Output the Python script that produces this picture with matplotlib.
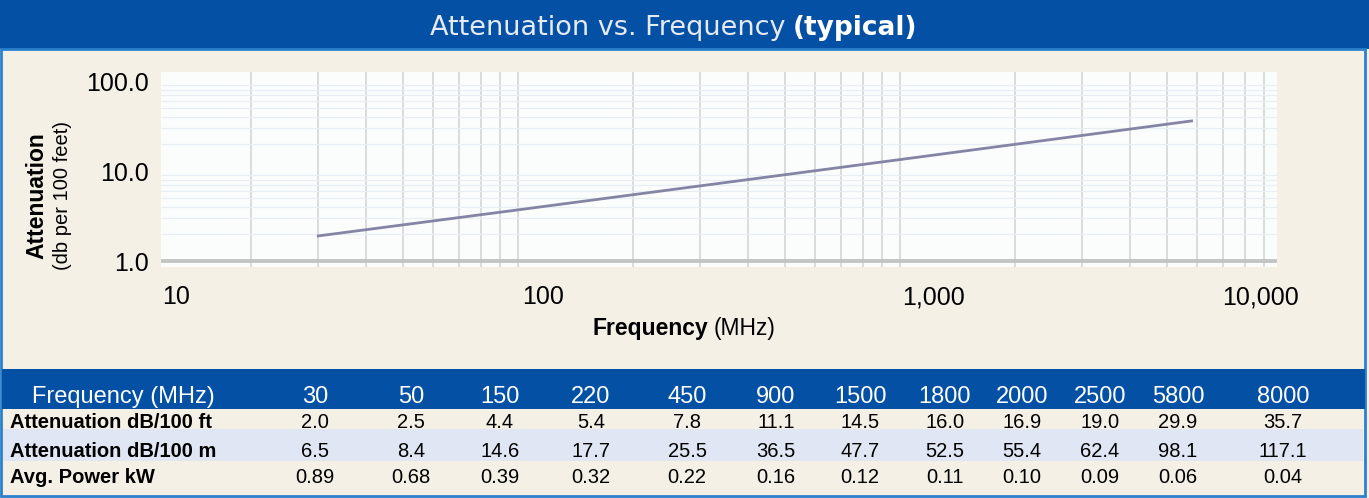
# Attenuation vs frequency chart with spec table underneath
import numpy as np
import matplotlib
matplotlib.use('Agg')
import matplotlib.pyplot as plt
from matplotlib.patches import Rectangle
from matplotlib.ticker import FixedLocator, FuncFormatter, NullFormatter

# line as drawn on the chart
curve_freq = [30, 100, 1000, 5800]
curve_att = [1.9, 3.7, 13.4, 36.0]

# table values
table_freq = ['30', '50', '150', '220', '450', '900', '1500', '1800', '2000', '2500', '5800', '8000']
att_ft = ['2.0', '2.5', '4.4', '5.4', '7.8', '11.1', '14.5', '16.0', '16.9', '19.0', '29.9', '35.7']
att_m = ['6.5', '8.4', '14.6', '17.7', '25.5', '36.5', '47.7', '52.5', '55.4', '62.4', '98.1', '117.1']
avg_power = ['0.89', '0.68', '0.39', '0.32', '0.22', '0.16', '0.12', '0.11', '0.10', '0.09', '0.06', '0.04']
row_labels = ['Attenuation dB/100 ft', 'Attenuation dB/100 m', 'Avg. Power kW']
x_tick_labels = ['10', '100', '1,000', '10,000']
y_ticks = [1, 10, 100]

BLUE = '#0450a4'
BEIGE = '#f4f0e6'
BAND = '#e0e6f3'
EDGE = '#2a80cc'
SANS = ['Liberation Sans', 'DejaVu Sans']

W, H = 1369, 498
fig = plt.figure(figsize=(W / 100, H / 100), dpi=100, facecolor=BEIGE)


def fx(x):
    return x / W


def fy(y):
    return 1 - y / H


def box(x0, y0, x1, y1, **kw):
    fig.patches.append(Rectangle((fx(x0), fy(y1)), fx(x1) - fx(x0), fy(y0) - fy(y1),
                                 transform=fig.transFigure, **kw))


# title bar, frame, table bands
box(0, 0, W, 49, facecolor=BLUE, edgecolor='none', zorder=0)
box(1, 49, 1365, 496, facecolor='none', edgecolor=EDGE, linewidth=2, zorder=0)
box(2, 369, 1365, 409, facecolor=BLUE, edgecolor='none', zorder=0)
box(3, 429, 1363, 461, facecolor=BAND, edgecolor='none', zorder=0)

fig.text(fx(786), fy(28), 'Attenuation vs. Frequency', color='#e6eaf4', fontsize=19.5,
         family='DejaVu Sans', ha='right', va='center')
fig.text(fx(793), fy(28), '(typical)', color='white', fontsize=19,
         family='DejaVu Sans', fontweight='bold', ha='left', va='center')

# chart
ax = fig.add_axes([fx(161), fy(267), fx(1277) - fx(161), fy(72) - fy(267)])
ax.set_facecolor('#fbfdfd')
ax.set_xscale('log')
ax.set_yscale('log')
ax.set_xlim(11.63, 9705)
ax.set_ylim(0.858, 125.9)

ax.xaxis.set_major_locator(FixedLocator([]))
ax.xaxis.set_minor_locator(FixedLocator([k * 10 ** d for d in (1, 2, 3) for k in range(2, 10)] + [100, 1000]))
ax.xaxis.set_minor_formatter(NullFormatter())
ax.grid(True, which='minor', axis='x', color='#cdd2d6', linewidth=1.1)
ax.yaxis.set_minor_locator(FixedLocator([k * 10 ** d for d in (0, 1) for k in range(2, 10)] + [10, 100]))
ax.yaxis.set_minor_formatter(NullFormatter())
ax.grid(True, which='minor', axis='y', color='#e9eef2', linewidth=0.9)
ax.axhline(1.0, color='#c4c4c4', linewidth=2.8, zorder=2)

ax.plot(curve_freq, curve_att, color='#8484a4', linewidth=2, zorder=3)

ax.yaxis.set_major_locator(FixedLocator(y_ticks))
ax.yaxis.set_major_formatter(FuncFormatter(lambda v, p: '%.1f' % v))
ax.tick_params(axis='y', which='both', length=0, pad=9, labelsize=18)
ax.tick_params(axis='x', which='both', length=0)
for lab in ax.get_yticklabels():
    lab.set_family(SANS)
for s in ax.spines.values():
    s.set_visible(False)

for lab, xp in zip(x_tick_labels, [176, 543, 933, 1260]):
    fig.text(fx(xp), fy(297), lab, fontsize=18, family=SANS, ha='center', va='center')

fig.text(fx(708), fy(329), 'Frequency', fontsize=16.5, family=SANS, fontweight='bold',
         ha='right', va='center')
fig.text(fx(714), fy(329), '(MHz)', fontsize=16.5, family=SANS, ha='left', va='center')
fig.text(fx(37), fy(196), 'Attenuation', fontsize=16.5, family=SANS, fontweight='bold',
         rotation=90, ha='center', va='center')
fig.text(fx(63), fy(196), '(db per 100 feet)', fontsize=14.5, family=SANS,
         rotation=90, ha='center', va='center')

# table
col_x = [315, 411, 500, 591, 687, 776, 860, 945, 1022, 1100, 1178, 1283]
fig.text(fx(123), fy(403), 'Frequency (MHz)', fontsize=17, family=SANS, color='white',
         ha='center', va='baseline')
for xp, f in zip(col_x, table_freq):
    fig.text(fx(xp), fy(403), f, fontsize=17, family=SANS, color='white',
             ha='center', va='baseline')

for lab, vals, base in zip(row_labels, [att_ft, att_m, avg_power], [428, 457, 483]):
    fig.text(fx(10), fy(base), lab, fontsize=14.5, family=SANS, fontweight='bold',
             ha='left', va='baseline')
    for xp, v in zip(col_x, vals):
        fig.text(fx(xp), fy(base), v, fontsize=14.5, family=SANS, ha='center', va='baseline')

fig.savefig('out.png', dpi=100, facecolor=BEIGE)
